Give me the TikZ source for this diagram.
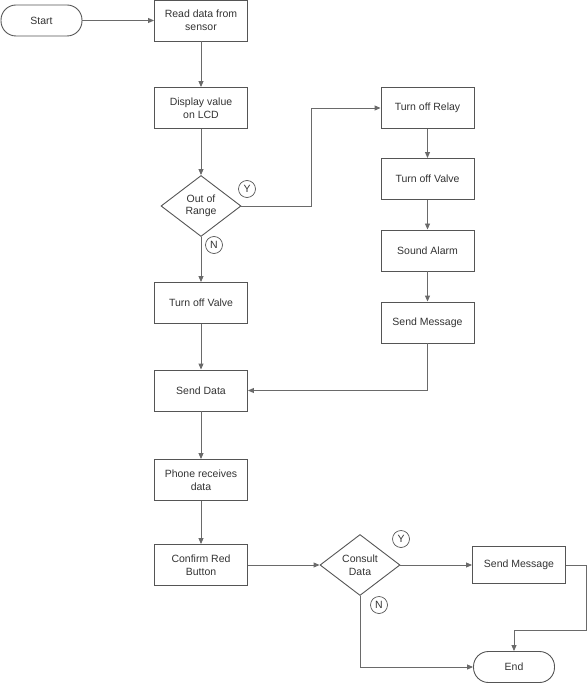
\documentclass[tikz,border=0pt]{standalone}
\usepackage{fontspec}
\setmainfont{Liberation Sans}
\usetikzlibrary{shapes.geometric,arrows.meta}
\definecolor{linec}{HTML}{6A6A6A}
\definecolor{boxc}{HTML}{555555}
\definecolor{txtc}{HTML}{333333}
\begin{document}
\begin{tikzpicture}[x=1pt,y=-1pt,
  every node/.style={font=\fontsize{10.5}{12.5}\selectfont, text=txtc},
  proc/.style={draw=boxc, line width=0.9pt, minimum width=93pt, minimum height=41pt, align=center, inner sep=1pt},
  term/.style={draw=boxc, line width=0.9pt, rounded corners=15pt, minimum width=81pt, minimum height=31pt},
  dec/.style={draw=boxc, line width=0.9pt, diamond, aspect=1.33, minimum width=80pt, minimum height=61pt, align=center, inner sep=0pt},
  lbl/.style={draw=boxc, line width=0.7pt, circle, minimum size=17pt, inner sep=0pt},
  conn/.style={draw=linec, line width=0.9pt, -{Triangle[length=6pt,width=5pt]}}
]
\useasboundingbox (0,0) rectangle (587,684);
\node[term] (start) at (41.5,20.5) {Start};
\node[proc] (read) at (201,20.5) {Read data from\\sensor};
\node[proc] (disp) at (201,108) {Display value\\on LCD};
\node[dec] (range) at (201,206) {Out of\\Range};
\node[lbl] (y1) at (247,189) {Y};
\node[lbl] (n1) at (214,245) {N};
\node[proc] (relay) at (427.5,108) {Turn off Relay};
\node[proc] (valveR) at (427.5,179) {Turn off Valve};
\node[proc] (alarm) at (427.5,250.5) {Sound Alarm};
\node[proc] (msg1) at (427.5,322.5) {Send Message};
\node[proc] (valveL) at (201,303) {Turn off Valve};
\node[proc] (send) at (201,390.5) {Send Data};
\node[proc] (phone) at (201,480) {Phone receives\\data};
\node[proc] (confirm) at (201,565) {Confirm Red\\Button};
\node[dec] (consult) at (360,565) {Consult\\Data};
\node[lbl] (y2) at (401,539) {Y};
\node[lbl] (n2) at (379,605) {N};
\node[proc, minimum height=37pt] (msg2) at (519,565) {Send Message};
\node[term] (end) at (514,667) {End};
\coordinate (c1) at (586,630);

\draw[conn] (start) -- (read);
\draw[conn] (read) -- (disp);
\draw[conn] (disp) -- (range);
\draw[conn] (range.east) -| (311,108) -- (relay.west);
\draw[conn] (relay) -- (valveR);
\draw[conn] (valveR) -- (alarm);
\draw[conn] (alarm) -- (msg1);
\draw[conn] (range) -- (valveL);
\draw[conn] (valveL) -- (send);
\draw[conn] (msg1.south) |- (send.east);
\draw[conn] (send) -- (phone);
\draw[conn] (phone) -- (confirm);
\draw[conn] (confirm) -- (consult);
\draw[conn] (consult) -- (msg2);
\draw[conn] (msg2.east) -| (c1) -| (end.north);
\draw[conn] (consult.south) |- (end.west);
\end{tikzpicture}
\end{document}
